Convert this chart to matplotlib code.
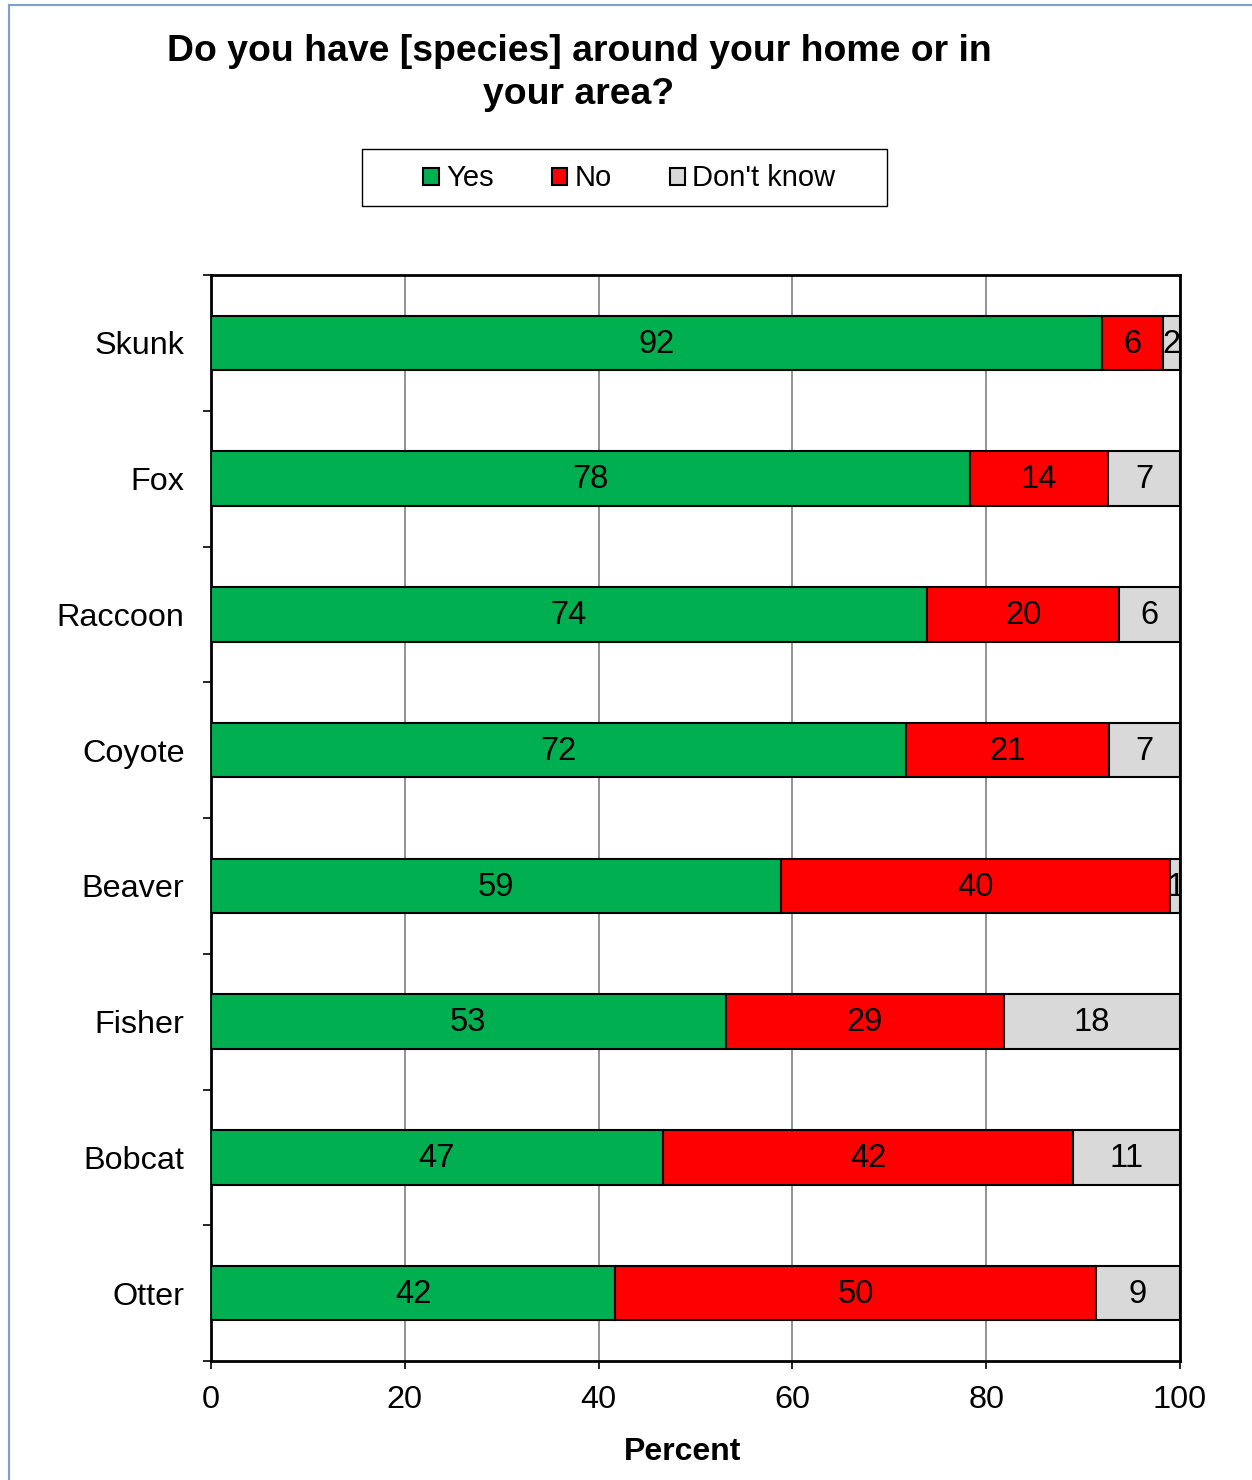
import matplotlib.pyplot as plt
from matplotlib.lines import Line2D
from matplotlib.patches import Rectangle

plt.rcParams['font.family'] = ['Liberation Sans', 'DejaVu Sans']

species = ['Skunk', 'Fox', 'Raccoon', 'Coyote', 'Beaver', 'Fisher', 'Bobcat', 'Otter']
yes = [92.0, 78.3, 73.9, 71.7, 58.8, 53.1, 46.6, 41.7]
no = [6.2, 14.3, 19.8, 21.0, 40.2, 28.7, 42.4, 49.6]
dont_know = [1.8, 7.4, 6.3, 7.3, 1.0, 18.2, 11.0, 8.7]

series = [('Yes', yes, '#00b050'), ('No', no, '#ff0000'), ("Don't know", dont_know, '#d9d9d9')]

W, H = 1252, 1480
fig = plt.figure(figsize=(W / 100, H / 100), dpi=100)
ax = fig.add_axes([211/W, 1 - 1361/H, 969/W, (1361-275)/H])

ypos = list(range(len(species)))
left = [0.0] * len(species)
for name, vals, col in series:
    bars = ax.barh(ypos, vals, left=left, height=0.40, color=col,
                   edgecolor='black', linewidth=1.5, label=name, zorder=3)
    for b, v in zip(bars, vals):
        ax.text(b.get_x() + b.get_width() / 2, b.get_y() + b.get_height() / 2 + 0.01,
                f'{v:.0f}', ha='center', va='center', fontsize=23.5,
                zorder=4, clip_on=True)
    left = [l + v for l, v in zip(left, vals)]

ax.set_xlim(0, 100)
ax.set_ylim(len(species) - 0.5, -0.5)
ax.set_xticks([0, 20, 40, 60, 80, 100])
ax.set_yticks(ypos)
ax.set_yticklabels(species)
ax.set_yticks([i - 0.5 for i in range(len(species) + 1)], minor=True)
ax.tick_params(axis='y', which='major', length=0, pad=19, labelsize=23.3)
ax.tick_params(axis='y', which='minor', length=6, width=1.2, direction='out')
ax.tick_params(axis='x', length=6, width=1.2, direction='out', pad=11, labelsize=23.4)
ax.grid(axis='x', color='#808080', linewidth=1.2, zorder=0)
for s in ax.spines.values():
    s.set_linewidth(2)
ax.set_xlabel('Percent', fontsize=23, fontweight='bold', labelpad=16, x=0.487)

fig.text(579/W, 1 - 73/H, 'Do you have [species] around your home or in\nyour area?',
         ha='center', va='center', fontsize=26.9, fontweight='bold', linespacing=1.27)

# legend frame drawn separately so its padding can match the reference
fig.add_artist(Rectangle((362/W, 1 - 206/H), (887-362)/W, (206-149)/H,
                         transform=fig.transFigure, facecolor='white',
                         edgecolor='black', linewidth=1.0))
handles = [Rectangle((0, 0), 1, 1, facecolor=c, edgecolor='black', linewidth=1.5)
           for _, _, c in series]
leg = fig.legend(handles, [n for n, _, _ in series], ncol=3, loc='center',
                 bbox_to_anchor=(629.5/W, 1 - 178.5/H), fontsize=21,
                 frameon=False, handlelength=0.52, handleheight=0.52,
                 handletextpad=0.25, columnspacing=2.0, borderpad=0, borderaxespad=0)

fig.add_artist(Line2D([9/W, 9/W], [0, 1 - 5/H], color='#7f9fd0', linewidth=1.5))
fig.add_artist(Line2D([9/W, 1], [1 - 5/H, 1 - 5/H], color='#7f9fd0', linewidth=1.5))

fig.savefig('out.png', dpi=100)
